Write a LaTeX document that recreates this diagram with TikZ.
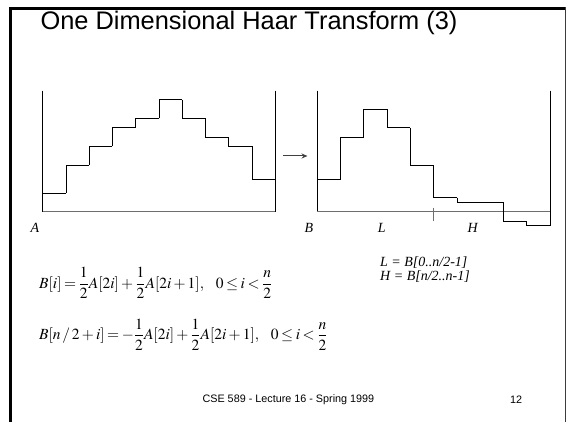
\documentclass[tikz,border=0pt]{standalone}
\usepackage{mathptmx}
\usepackage[no-math]{fontspec}
\setmainfont{Liberation Serif}
\setsansfont{Liberation Sans}
\usetikzlibrary{arrows.meta,positioning}
\definecolor{AxisGray}{RGB}{110,110,110}
\definecolor{FrameGray}{RGB}{60,60,60}
\tikzset{
  frameline/.style={black,line width=2.4pt},
  axisline/.style={black,line width=0.8pt},
  baseaxis/.style={AxisGray,line width=1.3pt},
  stairline/.style={black,line width=0.8pt},
  plotlabel/.style={font=\fontsize{14}{16}\selectfont\itshape,inner sep=0pt},
  eqn/.style={font=\fontsize{15.5}{19}\selectfont,anchor=west,inner sep=0pt},
  note/.style={font=\fontsize{14}{16}\selectfont\itshape,anchor=west,inner sep=0pt},
  footer/.style={font=\sffamily\fontsize{10.8}{12}\selectfont,inner sep=0pt},
  mapsto/.style={-{Stealth[length=6pt,width=5pt]},black!75,line width=1pt},
}
\newcommand{\eqgap}{\hspace{10pt}}
\begin{document}
\begin{tikzpicture}[x=1pt,y=-1pt]
  \useasboundingbox (0,0) rectangle (567,422);
  % slide frame
  \draw[frameline] (10.5,7.5) -- (10.5,424);
  \draw[frameline] (9.3,8.7) -- (565,8.7);
  \draw[FrameGray,line width=1.3pt] (565.7,7.5) -- (565.7,424);
  % title
  \node[font=\sffamily\fontsize{25.4}{30}\selectfont,inner sep=0pt,anchor=base] (title) at (249,29.5) {One Dimensional Haar Transform (3)};
  % plot A
  \draw[axisline] (42.7,90.7) -- (42.7,211.7);
  \draw[axisline] (275.3,90.7) -- (275.3,211.7);
  \draw[baseaxis] (42.7,211.7) -- (275.3,211.7);
  \foreach \v [count=\k from 0, remember=\v as \p (initially 2)] in {2,5,7,9,10,12,10,8,7,3.5}
    \draw[stairline] ({42.7+23.26*\k},{211.7-9.33*\p}) -- ({42.7+23.26*\k},{211.7-9.33*\v})
      -- ({42.7+23.26*(\k+1)},{211.7-9.33*\v});
  % plot B
  \draw[axisline] (317.3,90.7) -- (317.3,211.7);
  \draw[axisline] (550,90.7) -- (550,225.7);
  \draw[baseaxis] (317.3,211.7) -- (550,211.7);
  \draw[baseaxis,line width=0.9pt] (433.6,207.7) -- (433.6,221);
  \foreach \v [count=\k from 0, remember=\v as \p (initially 3.5)] in {3.5,8,11,9,5,1.5,1,1,-1,-1.5}
    \draw[stairline] ({317.3+23.27*\k},{211.7-9.33*\p}) -- ({317.3+23.27*\k},{211.7-9.33*\v})
      -- ({317.3+23.27*(\k+1)},{211.7-9.33*\v});
  % arrow between plots
  \coordinate (fromA) at (283,156);
  \coordinate (toB) at (307.5,156);
  \draw[mapsto] (fromA) -- (toB);
  % plot labels
  \node[plotlabel] (labA) at (35,228) {A};
  \node[plotlabel] (labB) at (309,228) {B};
  \node[plotlabel] (labL) at (381.7,228) {L};
  \node[plotlabel] (labH) at (472.7,228) {H};
  % formulas
  \node[eqn] (eqlow) at (39,283) {\thickmuskip=3mu$\displaystyle B[i]=\frac{1}{2}A[2i]+\frac{1}{2}A[2i+1],\eqgap 0\le i<\frac{n}{2}$};
  \node[eqn] (eqhigh) at (39,334.5) {\thickmuskip=3mu$\displaystyle B[n\,/\,2+i]=-\frac{1}{2}A[2i]+\frac{1}{2}A[2i+1],\eqgap 0\le i<\frac{n}{2}$};
  \node[note] (defL) at (380,262.5) {L = B[0..n/2-1]};
  \node[note] (defH) at (380,276.5) {H = B[n/2..n-1]};
  % footer
  \node[footer] (foot) at (288.4,399.3) {CSE 589 - Lecture 16 - Spring 1999};
  \node[footer] (page) at (516,399.3) {12};
\end{tikzpicture}
\end{document}
